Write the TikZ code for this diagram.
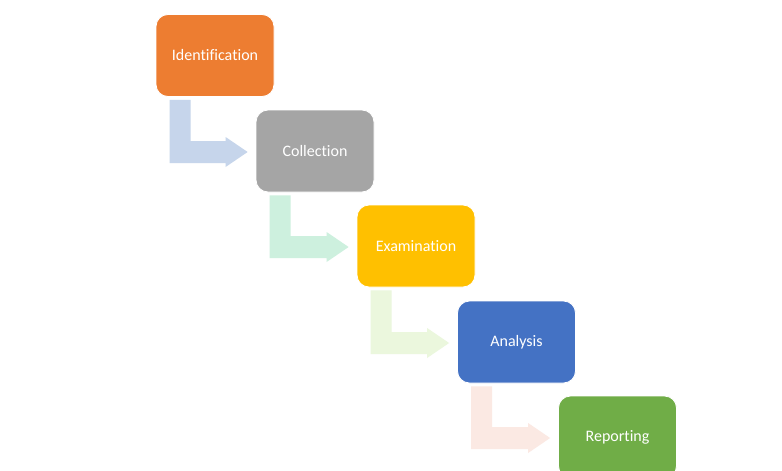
\documentclass[tikz,border=0pt]{standalone}
\usepackage{fontspec}
\setmainfont{Carlito}[Ligatures=NoCommon]
\usetikzlibrary{calc}
\definecolor{cOrange}{HTML}{ED7D31}
\definecolor{cGray}{HTML}{A5A5A5}
\definecolor{cYellow}{HTML}{FFC000}
\definecolor{cBlue}{HTML}{4472C4}
\definecolor{cGreen}{HTML}{70AD47}
\definecolor{aBlue}{HTML}{C6D5EB}
\definecolor{aMint}{HTML}{CDF0DE}
\definecolor{aLime}{HTML}{EBF7DD}
\definecolor{aPink}{HTML}{FBE9E3}
\tikzset{
  stepbox/.style={draw=white, line width=0.8pt, rounded corners=12pt,
    minimum width=118pt, minimum height=82pt, inner sep=0pt,
    text=white, font=\fontsize{16}{19}\selectfont},
}
\begin{document}
\begin{tikzpicture}[x=1pt,y=-1pt]
\useasboundingbox (0,0) rectangle (782,471);
\clip (0,0) rectangle (782,471);
\fill[white] (0,0) rectangle (782,471);
\node[stepbox, fill=cOrange] (s1) at (215,55.5) {Identification};
\node[stepbox, fill=cGray]   (s2) at (315,151) {Collection};
\node[stepbox, fill=cYellow] (s3) at (416,246) {Examination};
\node[stepbox, fill=cBlue]   (s4) at (516.5,342) {Analysis};
\node[stepbox, fill=cGreen]  (s5) at (617.5,437) {Reporting};
\foreach \a/\b/\c in {s1/s2/aBlue, s2/s3/aMint, s3/s4/aLime, s4/s5/aPink}{
  \coordinate (pl) at ($(\a.south west)+(14,3)$);
  \coordinate (pr) at ($(\a.south west)+(35,3)$);
  \coordinate (qt) at ($(\b.west)+(-30,-10)$);
  \coordinate (qb) at ($(\b.west)+(-30,12)$);
  \fill[\c]
    (pl) -- (pr) -- (pr |- qt) -- (qt) --
    ($(\b.west)+(-30,-14)$) --
    ($(\b.west)+(-8,1)$) --
    ($(\b.west)+(-30,16)$) --
    (qb) -- (pl |- qb) -- cycle;
}
\end{tikzpicture}
\end{document}
